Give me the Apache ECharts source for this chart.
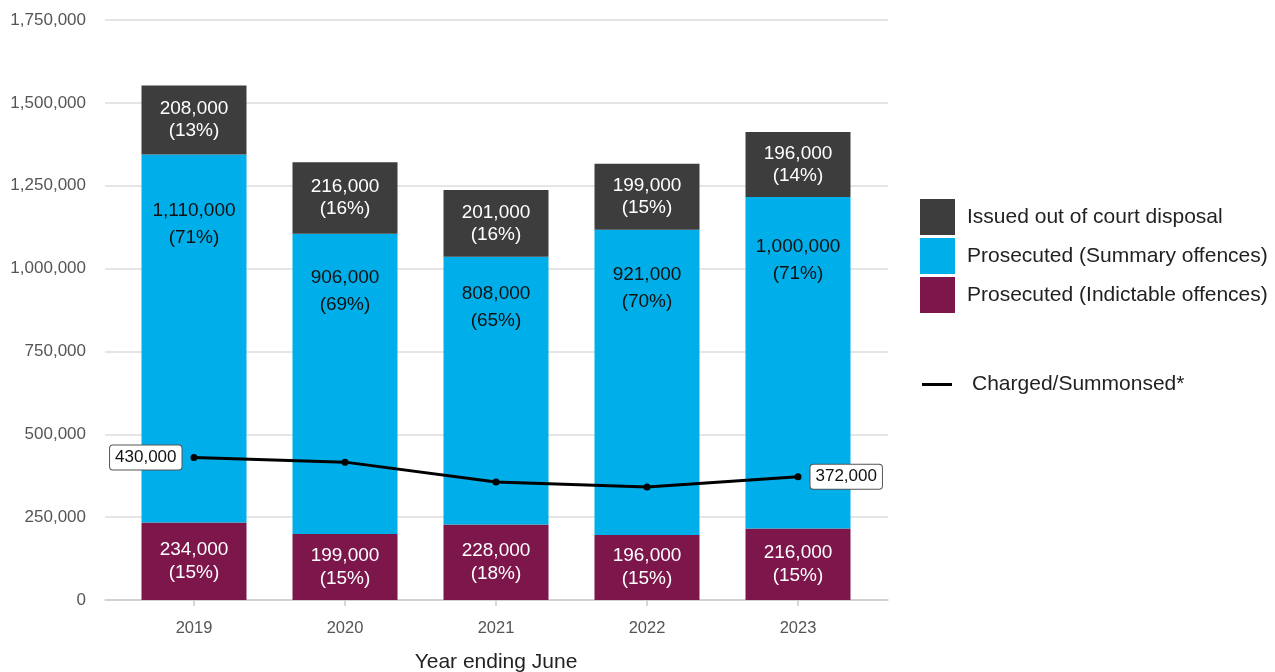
<!DOCTYPE html>
<html>
<head>
<meta charset="utf-8">
<script src="https://cdn.jsdelivr.net/npm/echarts@6/dist/echarts.min.js"></script>
<style>
  html, body { margin: 0; padding: 0; background: #fff; }
  #chart { width: 1275px; height: 672px; }
</style>
</head>
<body>
<div id="chart"></div>
<script>
// Outcomes by year ending June
const years = ['2019', '2020', '2021', '2022', '2023'];
const indictable = [234000, 199000, 228000, 196000, 216000];
const indictablePct = [15, 15, 18, 15, 15];
const summary = [1110000, 906000, 808000, 921000, 1000000];
const summaryPct = [71, 69, 65, 70, 71];
const outOfCourt = [208000, 216000, 201000, 199000, 196000];
const outOfCourtPct = [13, 16, 16, 15, 14];
const charged = [430000, 416000, 356000, 341000, 372000];
const yTicks = [0, 250000, 500000, 750000, 1000000, 1250000, 1500000, 1750000];

const FONT = '"Liberation Sans", Arial, Helvetica, sans-serif';
const fmt = v => Math.round(v).toString().replace(/\B(?=(\d{3})+(?!\d))/g, ',');

const NAMES = {
  ooc: 'Issued out of court disposal',
  sum: 'Prosecuted (Summary offences)',
  ind: 'Prosecuted (Indictable offences)',
  chg: 'Charged/Summonsed*'
};

function pctLabel(pcts) {
  return p => fmt(p.value) + '\n(' + pcts[p.dataIndex] + '%)';
}

const chart = echarts.init(document.getElementById('chart'), null, { renderer: 'canvas' });

const yMax = yTicks[yTicks.length - 1];

chart.setOption({
  animation: false,
  textStyle: { fontFamily: FONT },
  grid: [
    // full-width backdrop grid: gridlines, y labels and the baseline
    { left: 105, right: 387, top: 20, bottom: 72, outerBoundsMode: 'none', containLabel: false },
    // data grid
    { left: 118.5, right: 401.5, top: 20, bottom: 72, outerBoundsMode: 'none', containLabel: false }
  ],
  xAxis: [
    {
      gridIndex: 0, type: 'value', min: 0, max: 1,
      axisLine: { show: true, lineStyle: { color: '#cccccc', width: 1.5 } },
      axisTick: { show: false }, axisLabel: { show: false }, splitLine: { show: false }
    },
    {
      gridIndex: 1, type: 'category', data: years, boundaryGap: true,
      axisLine: { show: false },
      axisTick: { show: true, alignWithLabel: true, length: 6, lineStyle: { color: '#cccccc', width: 1.5 } },
      axisLabel: { color: '#555555', fontSize: 16.5, margin: 20, fontFamily: FONT },
      name: 'Year ending June', nameLocation: 'middle', nameGap: 52,
      nameTextStyle: { color: '#222222', fontSize: 21, fontFamily: FONT }
    }
  ],
  yAxis: [
    {
      gridIndex: 0, type: 'value', min: 0, max: yMax, interval: 250000,
      axisLine: { show: false }, axisTick: { show: false },
      axisLabel: { color: '#555555', fontSize: 17, margin: 19, formatter: v => fmt(v), fontFamily: FONT },
      splitLine: { show: true, lineStyle: { color: '#dddddd', width: 1.5 } }
    },
    {
      gridIndex: 1, type: 'value', min: 0, max: yMax, interval: 250000,
      show: false, splitLine: { show: false }
    }
  ],
  legend: [
    {
      orient: 'vertical', left: 920, top: 199, padding: 0,
      itemWidth: 35, itemHeight: 36, itemGap: 3, icon: 'rect',
      data: [NAMES.ooc, NAMES.sum, NAMES.ind],
      textStyle: { color: '#222222', fontSize: 21, fontFamily: FONT, padding: [6, 0, 0, 7] },
      selectedMode: false
    },
    {
      orient: 'vertical', left: 922, top: 374, padding: 0,
      itemWidth: 30, itemHeight: 3, icon: 'rect',
      data: [NAMES.chg],
      textStyle: { color: '#222222', fontSize: 21, fontFamily: FONT, padding: [2, 0, 0, 15] },
      selectedMode: false
    }
  ],
  series: [
    {
      name: NAMES.ind, type: 'bar', stack: 'total', xAxisIndex: 1, yAxisIndex: 1,
      barWidth: 105, data: indictable,
      itemStyle: { color: '#7c164b' },
      label: {
        show: true, position: 'inside', color: '#ffffff', fontSize: 19, lineHeight: 23,
        fontFamily: FONT, formatter: pctLabel(indictablePct)
      }
    },
    {
      name: NAMES.sum, type: 'bar', stack: 'total', xAxisIndex: 1, yAxisIndex: 1,
      barWidth: 105, data: summary,
      itemStyle: { color: '#00afe9' },
      label: {
        show: true, position: ['50%', '19%'], align: 'center', verticalAlign: 'middle',
        color: '#111111', fontSize: 19, lineHeight: 27,
        fontFamily: FONT, formatter: pctLabel(summaryPct)
      }
    },
    {
      name: NAMES.ooc, type: 'bar', stack: 'total', xAxisIndex: 1, yAxisIndex: 1,
      barWidth: 105, data: outOfCourt,
      itemStyle: { color: '#3d3d3d' },
      label: {
        show: true, position: 'inside', color: '#ffffff', fontSize: 19, lineHeight: 22,
        fontFamily: FONT, formatter: pctLabel(outOfCourtPct)
      }
    },
    {
      name: NAMES.chg, type: 'line', xAxisIndex: 1, yAxisIndex: 1,
      data: charged.map((v, i) => {
        const item = { value: v };
        if (i === 0 || i === charged.length - 1) {
          item.label = {
            show: true, position: i === 0 ? 'left' : 'right', distance: 9,
            formatter: p => fmt(p.value),
            color: '#111111', fontSize: 17, fontFamily: FONT,
            backgroundColor: '#ffffff', borderColor: '#555555', borderWidth: 1,
            borderRadius: 3, padding: [4, 5, 3, 5]
          };
        }
        return item;
      }),
      z: 5,
      symbol: 'circle', symbolSize: 7,
      lineStyle: { color: '#000000', width: 3 },
      itemStyle: { color: '#000000' },
      label: { show: false }
    }
  ]
});
</script>
</body>
</html>
